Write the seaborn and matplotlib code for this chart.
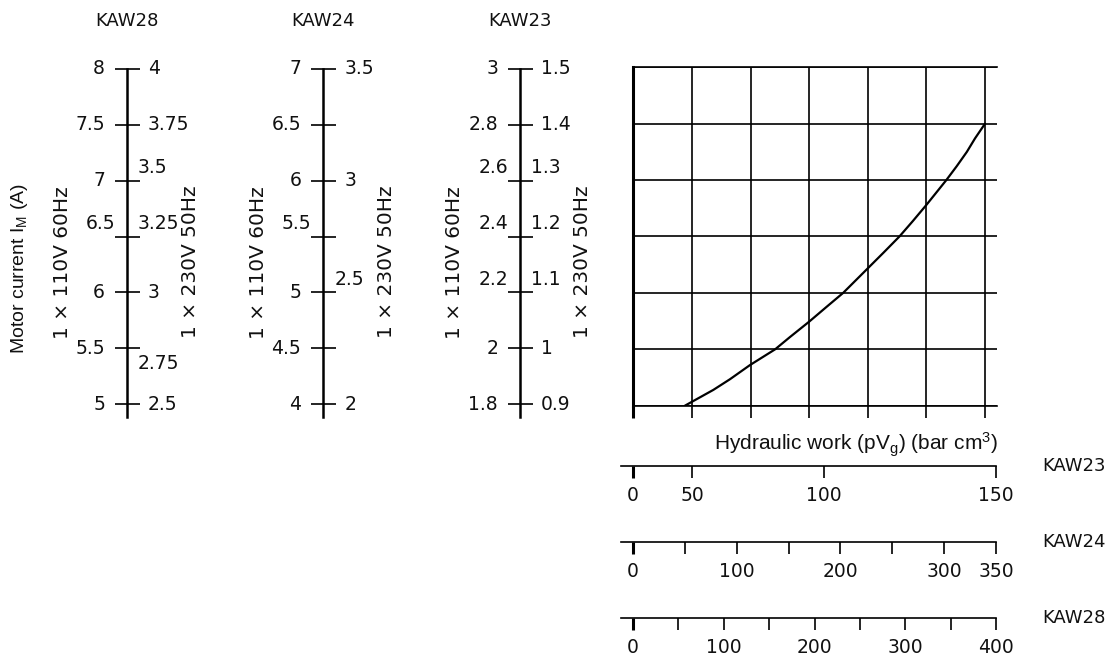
import numpy as np
import pandas as pd
import matplotlib
matplotlib.use('Agg')
import matplotlib.pyplot as plt
import seaborn as sns

# Motor current scales: 1x110V 60Hz on the left side, 1x230V 50Hz on the right side
models = ['KAW28', 'KAW24', 'KAW23']
kaw28_110v = [5, 5.5, 6, 6.5, 7, 7.5, 8]
kaw28_230v = [2.5, 2.75, 3, 3.25, 3.5, 3.75, 4]
kaw24_110v = [4, 4.5, 5, 5.5, 6, 6.5, 7]
kaw24_230v = [2, 2.5, 3, 3.5]
kaw23_110v = [1.8, 2.0, 2.2, 2.4, 2.6, 2.8, 3.0]
kaw23_230v = [0.9, 1.0, 1.1, 1.2, 1.3, 1.4, 1.5]
voltage_ratio = 2  # current at 110V / current at 230V

# Hydraulic work scales (bar cm3)
kaw23_work = [0, 50, 100, 150]
kaw23_work_labels = ['0', '50', '100', '150']
kaw24_work = [0, 50, 100, 150, 200, 250, 300, 350]
kaw24_work_labels = ['0', '', '100', '', '200', '', '300', '350']
kaw28_work = [0, 50, 100, 150, 200, 250, 300, 350, 400]
kaw28_work_labels = ['0', '', '100', '', '200', '', '300', '', '400']
# the KAW23 work scale is not evenly divided on the drawing (position in px from zero)
kaw23_work_pos = [0, 59, 191, 363]

# Characteristic curve: grid column units vs KAW23 current at 110V (A)
curve_grid_x = [0.88, 1.365, 1.65, 1.99, 2.42, 2.67, 3.0, 3.30, 3.58, 4.0,
                4.27, 4.54, 4.77, 5.0, 5.34, 5.52, 5.69, 5.83, 6.0]
curve_current = [1.8, 1.856, 1.894, 1.944, 2.0, 2.043, 2.098, 2.151, 2.2, 2.287,
                 2.343, 2.4, 2.455, 2.512, 2.6, 2.65, 2.70, 2.748, 2.8]
grid_columns = [0, 1, 2, 3, 4, 5, 6]

scale_110v = {'KAW28': kaw28_110v, 'KAW24': kaw24_110v, 'KAW23': kaw23_110v}
scale_230v = {'KAW28': kaw28_230v, 'KAW24': kaw24_230v, 'KAW23': kaw23_230v}

# --- style / layout (pixels) ---
W, H = 1115, 655
PT = 0.72  # points per pixel at 100 dpi
scale_x = {'KAW28': 127, 'KAW24': 323.3, 'KAW23': 520}
scale_top, scale_bottom, spine_bottom = 68.8, 404.3, 417
grid_left, grid_right, grid_top, grid_bottom = 633.3, 996.7, 67.3, 405.7
work_left, work_zero, work_right = 621, 633, 996
work_line_y = {'KAW23': 465.7, 'KAW24': 541.7, 'KAW28': 617.7}
raised_left = {'KAW28': [6.5], 'KAW24': [5.5], 'KAW23': [2.2, 2.4, 2.6]}
raised_right = {'KAW28': [3.25, 3.5], 'KAW24': [2.5], 'KAW23': [1.1, 1.2, 1.3]}
lowered_right = {'KAW28': [2.75], 'KAW24': [], 'KAW23': []}

sns.set_theme(style='white')
plt.rcParams['font.family'] = ['DejaVu Sans']
plt.rcParams['mathtext.default'] = 'regular'
num_font = dict(family='DejaVu Sans', size=13.5, color='#111111')
rot_font = dict(family='DejaVu Sans', size=14.5, color='#111111')
name_font = dict(family='DejaVu Sans', size=13, color='#111111')
title_font = dict(family='Liberation Sans', size=14, color='#111111')


def rect(x0, y0, x1, y1):
    return [x0 / W, 1 - y1 / H, (x1 - x0) / W, (y1 - y0) / H]


fig = plt.figure(figsize=(W / 100, H / 100), dpi=100)

# Vertical current scales
for m in models:
    vals = scale_110v[m]
    vmin, vmax = min(vals), max(vals)
    ppu = (scale_bottom - scale_top) / (vmax - vmin)
    ax = fig.add_axes(rect(scale_x[m], scale_top, scale_x[m] + 1, spine_bottom))
    ax.set_ylim(vmin - (spine_bottom - scale_bottom) / ppu, vmax)
    ax.set_xlim(0, 1)
    ax.patch.set_visible(False)
    for s in ['top', 'right', 'bottom']:
        ax.spines[s].set_visible(False)
    ax.spines['left'].set_linewidth(1.8)
    ax.spines['left'].set_color('black')
    ax.set_xticks([])
    ax.set_yticks(vals)
    ax.tick_params(axis='y', direction='inout', length=25 * PT, width=1.2,
                   color='black', labelleft=False, left=True)
    trans = ('axes fraction', 'data')
    for v in vals:
        up = v in raised_left[m]
        ax.annotate(f'{v:g}', xy=(0, v), xycoords=trans,
                    xytext=((-12 if up else -22) * PT, (13 if up else 0) * PT),
                    textcoords='offset points', ha='right', va='center', **num_font)
    for v in scale_230v[m]:
        up = v in raised_right[m]
        down = v in lowered_right[m]
        dx = 11 if (up or down) else 21
        dy = 13 if up else (-15 if down else 0)
        ax.annotate(f'{v:g}', xy=(0, v * voltage_ratio), xycoords=trans,
                    xytext=(dx * PT, dy * PT), textcoords='offset points',
                    ha='left', va='center', **num_font)
    fig.text(scale_x[m] / W, 1 - 21 / H, m, ha='center', va='center', **name_font)
    fig.text((scale_x[m] - 65) / W, 1 - 263 / H, '1 × 110V 60Hz', rotation=90,
             ha='center', va='center', **rot_font)
    fig.text((scale_x[m] + 63) / W, 1 - 262 / H, '1 × 230V 50Hz', rotation=90,
             ha='center', va='center', **rot_font)

fig.text(20 / W, 1 - 268 / H, 'Motor current I$_M$ (A)', rotation=90,
         ha='center', va='center', **title_font)

# Characteristic grid with curve
gax = fig.add_axes(rect(grid_left, grid_top, grid_right, grid_bottom))
gax.set_facecolor('white')
curve = pd.DataFrame({'x': curve_grid_x, 'current': curve_current})
sns.lineplot(data=curve, x='x', y='current', ax=gax, color='black', lw=1.6, zorder=5)
gax.set_xlim(0, (grid_right - grid_left) / ((985 - grid_left) / 6))
gax.set_ylim(min(kaw23_110v), max(kaw23_110v))
gax.set_xticks(grid_columns)
gax.set_yticks(kaw23_110v)
gax.set_xlabel('')
gax.set_ylabel('')
gax.grid(True, color='black', lw=1.2)
gax.tick_params(axis='x', direction='out', length=12 * PT, width=1.2, color='black',
                labelbottom=False, bottom=True)
gax.tick_params(axis='y', length=0, labelleft=False)
gax.spines['right'].set_visible(False)
for s in ['top', 'bottom']:
    gax.spines[s].set_linewidth(1.2)
    gax.spines[s].set_color('black')
gax.spines['left'].set_linewidth(2.2)
gax.spines['left'].set_color('black')
gax.xaxis.get_major_ticks()[0].tick1line.set_markeredgewidth(2.2)
gax.annotate('Hydraulic work (pV$_g$) (bar cm$^3$)', xy=(1, 0), xycoords='axes fraction',
             xytext=(1 * PT, -39 * PT), textcoords='offset points', ha='right', va='center',
             family='Liberation Sans', size=15, color='#111111')

# Hydraulic work scales
work = {'KAW23': (kaw23_work, kaw23_work_labels),
        'KAW24': (kaw24_work, kaw24_work_labels),
        'KAW28': (kaw28_work, kaw28_work_labels)}
ext_px = work_zero - work_left
span_px = work_right - work_zero
for m in ['KAW23', 'KAW24', 'KAW28']:
    ticks, labels = work[m]
    y = work_line_y[m]
    ax = fig.add_axes(rect(work_left, y - 10, work_right, y))
    ax.patch.set_visible(False)
    if m == 'KAW23':
        s0 = kaw23_work_pos[1] / kaw23_work[1]

        def fwd(v, s0=s0):
            v = np.asarray(v, dtype=float)
            return np.where(v < 0, v * s0, np.interp(v, kaw23_work, kaw23_work_pos))

        def inv(u, s0=s0):
            u = np.asarray(u, dtype=float)
            return np.where(u < 0, u / s0, np.interp(u, kaw23_work_pos, kaw23_work))

        ax.set_xscale('function', functions=(fwd, inv))
        ax.set_xlim(-ext_px / s0, max(ticks))
    else:
        ax.set_xlim(-ext_px / span_px * max(ticks), max(ticks))
    ax.set_xticks(ticks, labels)
    ax.set_xticks([], minor=True)
    ax.set_yticks([])
    for s in ['top', 'right', 'left']:
        ax.spines[s].set_visible(False)
    ax.spines['bottom'].set_linewidth(1.2)
    ax.spines['bottom'].set_color('black')
    ax.tick_params(axis='x', direction='out', length=12 * PT, width=1.2, color='black',
                   pad=6, bottom=True, labelsize=13.5, labelcolor='#111111')
    ax.xaxis.get_major_ticks()[0].tick1line.set_markeredgewidth(2.2)
    ax.annotate(m, xy=(1, 0), xycoords='axes fraction', xytext=(46 * PT, 0),
                textcoords='offset points', ha='left', va='center', **name_font)

fig.savefig('out.png', dpi=100)
